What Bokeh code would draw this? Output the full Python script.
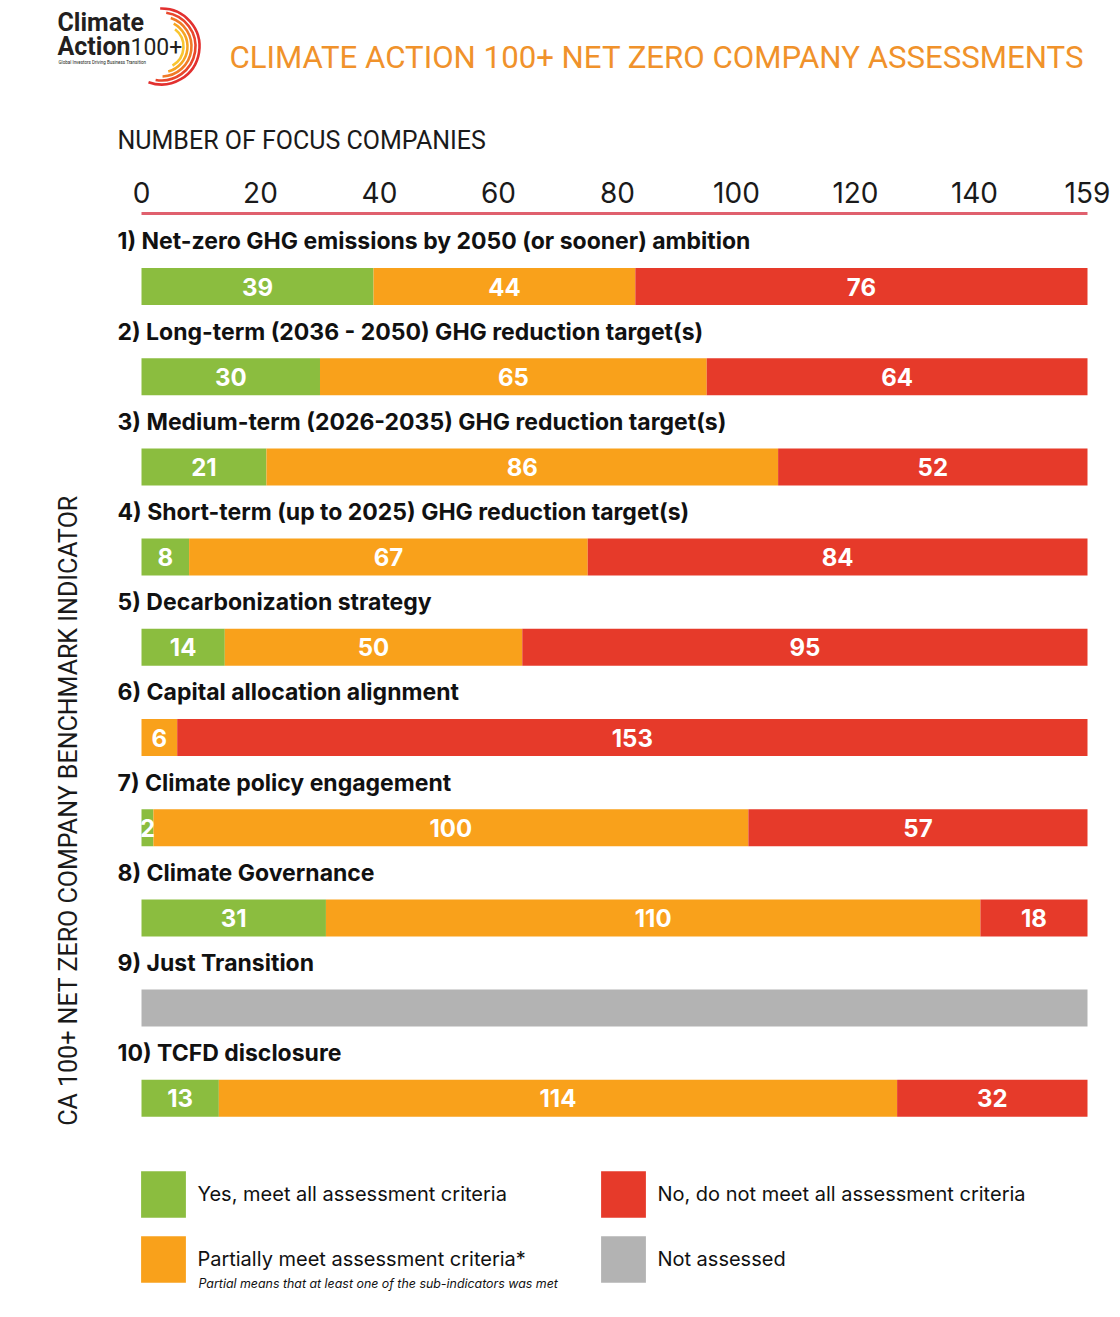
import math
from bokeh.plotting import figure
from bokeh.models import ColumnDataSource, Range1d, FixedTicker, Label, Legend, LegendItem
from bokeh.layouts import column
from bokeh.embed import file_html
from bokeh.resources import INLINE
from bokeh.core.properties import value

# ---------------- data ----------------
indicators = [
    "1)  Net-zero GHG emissions by 2050 (or sooner) ambition",
    "2) Long-term (2036 - 2050) GHG reduction target(s)",
    "3) Medium-term (2026-2035) GHG reduction target(s)",
    "4) Short-term (up to 2025) GHG reduction target(s)",
    "5) Decarbonization strategy",
    "6) Capital allocation alignment",
    "7) Climate policy engagement",
    "8) Climate Governance",
    "9) Just Transition",
    "10) TCFD disclosure",
]
yes = [39, 30, 21, 8, 14, 0, 2, 31, 0, 13]
partial = [44, 65, 86, 67, 50, 6, 100, 110, 0, 114]
no = [76, 64, 52, 84, 95, 153, 57, 18, 0, 32]
not_assessed = [0, 0, 0, 0, 0, 0, 0, 0, 159, 0]
tick_values = [0, 20, 40, 60, 80, 100, 120, 140, 159]
TOTAL = 159

series_labels = [
    "Yes, meet all assessment criteria",
    "Partially meet assessment criteria*",
    "No, do not meet all assessment criteria",
    "Not assessed",
]
series_colors = ["#8bbd3f", "#f9a11b", "#e63a2a", "#b3b3b3"]
partial_note = "Partial means that at least one of the sub-indicators was met"

title_text = "CLIMATE ACTION 100+ NET ZERO COMPANY ASSESSMENTS"
subtitle_text = "NUMBER OF FOCUS COMPANIES"
y_title_text = "CA 100+ NET ZERO COMPANY BENCHMARK INDICATOR"

# ---------------- layout constants (page pixels) ----------------
PAGE_W = 1112
HEADER_H = 170
MAIN_H = 1142
MAIN_TOP_PAGE = HEADER_H
FRAME_TOP_PAGE = 213
FRAME_BOTTOM_PAGE = MAIN_TOP_PAGE + MAIN_H
BAR_LEFT_PAGE = 141
BAR_RIGHT_PAGE = 1087
ROW1_PAGE = 286
ROW_STEP = 90.2

HEAD_FONT = "Roboto"
SANS = "Inter"

scale = (BAR_RIGHT_PAGE - BAR_LEFT_PAGE) / TOTAL
x_start = -BAR_LEFT_PAGE / scale
x_end = TOTAL + (PAGE_W - BAR_RIGHT_PAGE) / scale


def y_of(page_y):
    return 1 + (page_y - ROW1_PAGE) / ROW_STEP


def x_of(page_x):
    return (page_x - BAR_LEFT_PAGE) / scale


# ---------------- header ----------------
h = figure(width=PAGE_W, height=HEADER_H, x_range=Range1d(0, PAGE_W), y_range=Range1d(0, HEADER_H),
           toolbar_location=None, output_backend="svg", x_axis_location=None, y_axis_location=None,
           min_border=0, outline_line_color=None, tools="")
h.grid.visible = False


def hy(page_y):
    return HEADER_H - page_y


# logo arcs
arc_r = [38, 34, 30, 26, 22]
arc_start = [-110, -100, -88, -75, -60]
arc_end = [92, 82, 72, 62, 52]
arc_col = ["#e2302f", "#e9472c", "#f07a27", "#f6a523", "#f9c530"]
h.arc(x=[161] * 5, y=[hy(46)] * 5, radius=arc_r,
      start_angle=[math.radians(a) for a in arc_start], end_angle=[math.radians(a) for a in arc_end],
      line_color=arc_col, line_width=2.6)

h.add_layout(Label(x=57, y=hy(22), text="Climate", text_font=HEAD_FONT, text_font_style="bold",
                   text_font_size="25px", text_color="#231f20", text_baseline="middle"))
h.add_layout(Label(x=57, y=hy(46), text="Action", text_font=HEAD_FONT, text_font_style="bold",
                   text_font_size="25px", text_color="#231f20", text_baseline="middle"))
h.add_layout(Label(x=130, y=hy(46), text="100+", text_font=HEAD_FONT,
                   text_font_size="23px", text_color="#231f20", text_baseline="middle"))
h.add_layout(Label(x=58, y=hy(62), text="Global Investors Driving Business Transition", text_font=HEAD_FONT,
                   text_font_size="4.5px", text_color="#231f20", text_baseline="middle"))
h.add_layout(Label(x=229, y=hy(57), text=title_text, text_font=HEAD_FONT,
                   text_font_size="31.2px", text_color="#f0922b", text_baseline="middle"))
h.add_layout(Label(x=117, y=hy(140), text=subtitle_text, text_font=HEAD_FONT,
                   text_font_size="25px", text_color="#1a1a1a", text_baseline="middle"))

# ---------------- main chart ----------------
rows = list(range(1, len(indicators) + 1))
p = figure(width=PAGE_W, height=MAIN_H, x_range=Range1d(x_start, x_end),
           y_range=Range1d(y_of(FRAME_BOTTOM_PAGE), y_of(FRAME_TOP_PAGE)),
           x_axis_location="above", y_axis_location=None, toolbar_location=None,
           output_backend="svg", min_border_left=0, min_border_right=0, min_border_bottom=0,
           min_border_top=FRAME_TOP_PAGE - MAIN_TOP_PAGE, outline_line_color=None, tools="")
p.grid.visible = False

src = ColumnDataSource(dict(row=rows, yes=yes, partial=partial, no=no, na=not_assessed,
                            label=indicators, label_x=[0] * len(rows),
                            label_y=[r - 0.5 for r in rows]))
bars = p.hbar_stack(["yes", "partial", "no", "na"], y="row", height=37 / ROW_STEP, source=src,
                    fill_color=series_colors, line_color=None)

# value labels
vx, vy, vt = [], [], []
for i in range(len(rows)):
    left = 0
    for vals in (yes, partial, no):
        v = vals[i]
        if v > 0:
            vx.append(left + v / 2)
            vy.append(rows[i])
            vt.append(str(v))
        left += v
p.text(x="x", y="y", text="t", source=ColumnDataSource(dict(x=vx, y=vy, t=vt)),
       text_color="white", text_font=value(SANS), text_font_style="bold", text_font_size="24px",
       text_align="center", text_baseline="middle")

# category labels
p.text(x="label_x", y="label_y", text="label", source=src, x_offset=-(BAR_LEFT_PAGE - 117),
       text_color="#111111", text_font=value(SANS), text_font_style="bold", text_font_size="23px",
       text_align="left", text_baseline="middle")

# axis
ax = p.xaxis[0]
ax.ticker = FixedTicker(ticks=tick_values)
ax.bounds = (0, TOTAL)
ax.axis_line_color = "#e0606e"
ax.axis_line_width = 3
ax.major_tick_line_color = None
ax.minor_tick_line_color = None
ax.major_label_text_font = SANS
ax.major_label_text_font_size = "28px"
ax.major_label_text_color = "#1a1a1a"
ax.major_label_standoff = 5

# vertical title
p.add_layout(Label(x=x_of(68), y=y_of(810), text=y_title_text, angle=math.pi / 2, text_font=HEAD_FONT,
                   text_font_size="25px", text_color="#1a1a1a", text_align="center", text_baseline="middle"))

# legends
GW, GH = 56, 58


def make_legend(idx, bottom_page):
    lg = Legend(items=[LegendItem(label=series_labels[i], renderers=[bars[i]]) for i in idx],
                orientation="horizontal", location=(BAR_LEFT_PAGE - 5.6, FRAME_BOTTOM_PAGE - bottom_page),
                glyph_width=GW, glyph_height=GH, label_standoff=6, spacing=13, label_width=385,
                padding=0, margin=0, border_line_color=None, background_fill_alpha=0,
                label_text_font=SANS, label_text_font_size="20px", label_text_color="#111111")
    p.add_layout(lg, "center")


make_legend([0, 2], 1223.2)
make_legend([1, 3], 1288)

p.add_layout(Label(x=0, y=y_of(1283), x_offset=57, text=partial_note, text_font=SANS,
                   text_font_style="italic", text_font_size="12.4px", text_color="#111111",
                   text_baseline="middle"))

layout = column(h, p)
open("out.html", "w").write(file_html(layout, INLINE))
